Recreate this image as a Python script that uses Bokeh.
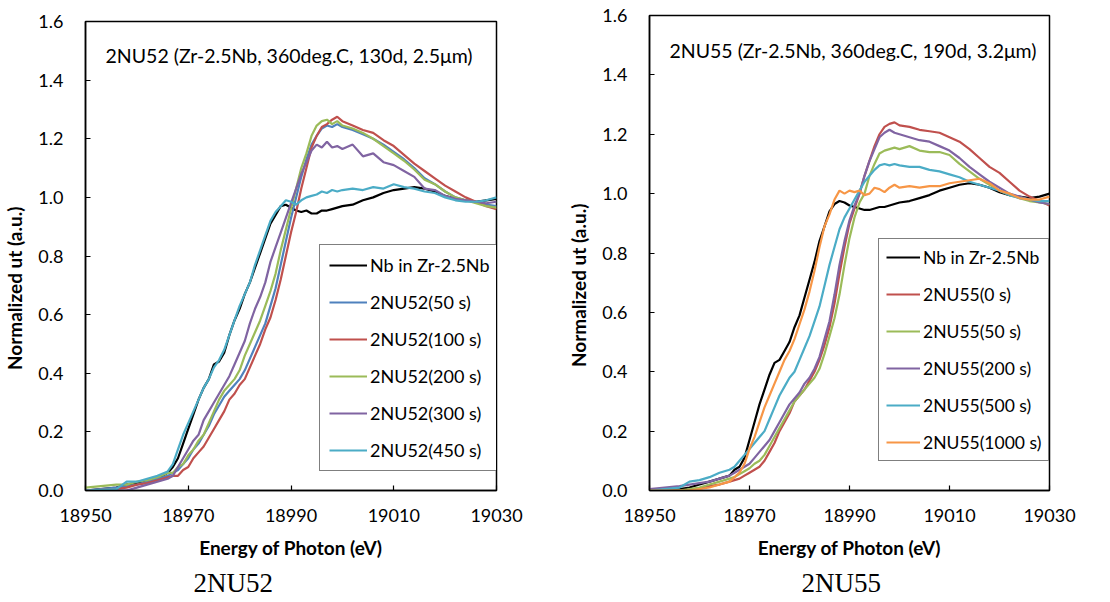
from bokeh.plotting import figure
from bokeh.layouts import row, column
from bokeh.models import Legend, LegendItem, Label, Title, FixedTicker, NumeralTickFormatter, Range1d
from bokeh.embed import file_html
from bokeh.resources import INLINE

# Photon energy grid (eV)
energy = ([18950, 18956, 18958, 18960, 18962, 18964, 18966]
          + list(range(18967, 19001)) + list(range(19002, 19031, 2)))

x_ticks = [18950, 18970, 18990, 19010, 19030]
y_ticks = [0.0, 0.2, 0.4, 0.6, 0.8, 1.0, 1.2, 1.4, 1.6]

# ---------------- 2NU52 ----------------
nb_ref_52 = [0.00, 0.01, 0.02, 0.025, 0.035, 0.04, 0.06,
             0.08, 0.11, 0.16, 0.21, 0.26, 0.31, 0.35, 0.38, 0.43, 0.44,
             0.47, 0.53, 0.58, 0.62, 0.67, 0.71, 0.76, 0.81, 0.86, 0.91,
             0.94, 0.97, 0.975, 0.965, 0.955, 0.95, 0.955, 0.945, 0.945, 0.955,
             0.955, 0.96, 0.965, 0.97,
             0.975, 0.99, 1.0, 1.015, 1.025, 1.03, 1.035, 1.03, 1.02, 1.005, 0.995, 0.99, 0.985, 0.99, 0.995]
s52_50 = [0.0, 0.01, 0.015, 0.02, 0.03, 0.04, 0.05,
          0.06, 0.07, 0.09, 0.11, 0.14, 0.16, 0.19, 0.22, 0.26, 0.29,
          0.32, 0.34, 0.36, 0.38, 0.41, 0.45, 0.49, 0.53, 0.57, 0.63,
          0.69, 0.77, 0.85, 0.93, 1.0, 1.07, 1.13, 1.18, 1.21, 1.235,
          1.245, 1.24, 1.25, 1.24,
          1.23, 1.215, 1.20, 1.18, 1.155, 1.13, 1.10, 1.065, 1.045, 1.02, 1.0, 0.99, 0.985, 0.975, 0.97]
s52_100 = [0.0, 0.005, 0.01, 0.02, 0.025, 0.035, 0.045,
           0.05, 0.05, 0.07, 0.08, 0.11, 0.13, 0.15, 0.18, 0.21, 0.24,
           0.27, 0.31, 0.33, 0.36, 0.38, 0.42, 0.46, 0.50, 0.55, 0.59,
           0.65, 0.72, 0.80, 0.88, 0.95, 1.03, 1.10, 1.17, 1.21, 1.24,
           1.25, 1.265, 1.275, 1.26,
           1.245, 1.23, 1.22, 1.195, 1.175, 1.145, 1.115, 1.09, 1.065, 1.04, 1.02, 1.0, 0.985, 0.97, 0.96]
s52_200 = [0.01, 0.02, 0.02, 0.03, 0.035, 0.045, 0.06,
           0.06, 0.08, 0.09, 0.12, 0.14, 0.17, 0.19, 0.23, 0.27, 0.31,
           0.34, 0.36, 0.38, 0.41, 0.46, 0.50, 0.54, 0.58, 0.63, 0.68,
           0.74, 0.82, 0.89, 0.96, 1.03, 1.10, 1.15, 1.21, 1.245, 1.26,
           1.265, 1.25, 1.26, 1.245,
           1.235, 1.22, 1.20, 1.175, 1.15, 1.125, 1.095, 1.06, 1.045, 1.02, 1.0, 0.99, 0.98, 0.97, 0.965]
s52_300 = [0.0, 0.0, 0.0, 0.01, 0.02, 0.03, 0.04,
           0.05, 0.08, 0.11, 0.14, 0.17, 0.19, 0.24, 0.27, 0.30, 0.33,
           0.36, 0.39, 0.43, 0.47, 0.51, 0.57, 0.62, 0.66, 0.71, 0.78,
           0.83, 0.88, 0.93, 0.98, 1.03, 1.08, 1.12, 1.16, 1.18, 1.17,
           1.19, 1.17, 1.175, 1.165,
           1.18, 1.14, 1.15, 1.12, 1.11, 1.09, 1.07, 1.03, 1.025, 1.005, 0.995, 0.99, 0.985, 0.98, 0.985]
s52_450 = [0.00, 0.005, 0.03, 0.03, 0.04, 0.05, 0.065,
           0.09, 0.14, 0.19, 0.23, 0.27, 0.31, 0.35, 0.38, 0.42, 0.445,
           0.48, 0.53, 0.58, 0.63, 0.67, 0.71, 0.77, 0.82, 0.87, 0.92,
           0.95, 0.97, 0.99, 0.985, 0.975, 0.99, 1.0, 1.005, 1.01, 1.02,
           1.015, 1.025, 1.02, 1.025,
           1.03, 1.025, 1.035, 1.03, 1.045, 1.035, 1.03, 1.02, 1.015, 1.0, 0.99, 0.985, 0.985, 0.99, 1.0]

labels_52 = ["Nb in Zr-2.5Nb", "2NU52(50 s)", "2NU52(100 s)", "2NU52(200 s)", "2NU52(300 s)", "2NU52(450 s)"]
series_52 = [nb_ref_52, s52_50, s52_100, s52_200, s52_300, s52_450]
colors_52 = ["#000000", "#4F81BD", "#C0504D", "#9BBB59", "#8064A2", "#4BACC6"]

# ---------------- 2NU55 ----------------
nb_ref_55 = [0.0, 0.005, 0.01, 0.02, 0.03, 0.04, 0.05,
             0.07, 0.08, 0.11, 0.17, 0.23, 0.29, 0.34, 0.39, 0.43, 0.44,
             0.47, 0.50, 0.55, 0.59, 0.65, 0.71, 0.77, 0.84, 0.89, 0.94,
             0.965, 0.975, 0.97, 0.96, 0.955, 0.95, 0.945, 0.945, 0.95, 0.955,
             0.955, 0.96, 0.965, 0.97,
             0.975, 0.985, 0.995, 1.01, 1.02, 1.03, 1.035, 1.03, 1.02, 1.005, 0.995, 0.99, 0.985, 0.99, 1.0]
s55_0 = [0.0, 0.0, 0.0, 0.005, 0.015, 0.02, 0.03,
         0.035, 0.04, 0.05, 0.06, 0.07, 0.08, 0.10, 0.13, 0.16, 0.20,
         0.23, 0.26, 0.30, 0.32, 0.34, 0.37, 0.40, 0.44, 0.49, 0.55,
         0.63, 0.73, 0.82, 0.90, 0.95, 1.0, 1.06, 1.11, 1.16, 1.2,
         1.225, 1.235, 1.24, 1.23,
         1.225, 1.215, 1.21, 1.205, 1.19, 1.175, 1.15, 1.12, 1.09, 1.07, 1.04, 1.01, 0.99, 0.975, 0.96]
s55_50 = [0.0, 0.0, 0.005, 0.01, 0.02, 0.03, 0.04,
          0.045, 0.055, 0.065, 0.075, 0.09, 0.10, 0.12, 0.15, 0.18, 0.21,
          0.24, 0.27, 0.30, 0.32, 0.34, 0.36, 0.38, 0.41, 0.46, 0.52,
          0.58, 0.66, 0.76, 0.85, 0.92, 0.97, 1.0, 1.06, 1.10, 1.135,
          1.145, 1.15, 1.155, 1.15,
          1.16, 1.145, 1.14, 1.14, 1.13, 1.10, 1.075, 1.05, 1.03, 1.01, 0.995, 0.985, 0.975, 0.97, 0.965]
s55_200 = [0.005, 0.015, 0.02, 0.025, 0.03, 0.04, 0.05,
           0.06, 0.07, 0.08, 0.09, 0.11, 0.13, 0.15, 0.17, 0.20, 0.23,
           0.26, 0.29, 0.31, 0.33, 0.36, 0.38, 0.41, 0.45, 0.51, 0.57,
           0.66, 0.76, 0.84, 0.91, 0.96, 1.0, 1.06, 1.11, 1.15, 1.19,
           1.205, 1.215, 1.205, 1.2,
           1.19, 1.18, 1.175, 1.16, 1.145, 1.12, 1.09, 1.065, 1.04, 1.02, 1.0, 0.99, 0.98, 0.97, 0.965]
s55_500 = [0.0, 0.01, 0.03, 0.035, 0.045, 0.06, 0.07,
           0.08, 0.10, 0.12, 0.14, 0.16, 0.18, 0.20, 0.24, 0.28, 0.32,
           0.35, 0.38, 0.40, 0.44, 0.48, 0.52, 0.57, 0.62, 0.69, 0.76,
           0.82, 0.88, 0.92, 0.95, 0.98, 1.01, 1.04, 1.06, 1.08, 1.095,
           1.1, 1.095, 1.1, 1.095,
           1.09, 1.09, 1.08, 1.075, 1.065, 1.055, 1.04, 1.03, 1.02, 1.01, 0.995, 0.985, 0.98, 0.975, 0.975]
s55_1000 = [0.0, 0.0, 0.0, 0.005, 0.01, 0.02, 0.03,
            0.045, 0.06, 0.09, 0.14, 0.18, 0.23, 0.28, 0.32, 0.36, 0.40,
            0.44, 0.47, 0.51, 0.56, 0.61, 0.67, 0.74, 0.82, 0.89, 0.93,
            0.98, 1.01, 1.0, 1.01, 1.005, 1.01, 0.995, 1.0, 1.02, 1.015,
            1.005, 1.02, 1.03, 1.02,
            1.025, 1.02, 1.025, 1.025, 1.035, 1.04, 1.045, 1.05, 1.035, 1.01, 1.0, 0.985, 0.98, 0.98, 0.99]

labels_55 = ["Nb in Zr-2.5Nb", "2NU55(0 s)", "2NU55(50 s)", "2NU55(200 s)", "2NU55(500 s)", "2NU55(1000 s)"]
series_55 = [nb_ref_55, s55_0, s55_50, s55_200, s55_500, s55_1000]
colors_55 = ["#000000", "#C0504D", "#9BBB59", "#8064A2", "#4BACC6", "#F79646"]

notes = ["2NU52 (Zr-2.5Nb, 360deg.C, 130d, 2.5\u03bcm)", "2NU55 (Zr-2.5Nb, 360deg.C, 190d, 3.2\u03bcm)"]
captions = ["2NU52", "2NU55"]

FONT = "Lato"
# trailing no-break spaces push the rotated label a little below the frame centre, as in the original
Y_LABEL = "Normalized ut (a.u.)" + "\u00a0" * 14


def make_panel(series, labels, colors, note, caption, borders, legend_cfg, note_pos, caption_offset):
    left, right, top, bottom = borders
    legend_loc, legend_font, legend_pad, glyph_w = legend_cfg
    p = figure(width=555, height=602, output_backend="svg", toolbar_location=None,
               title_location=None,
               x_range=Range1d(18950, 19030), y_range=Range1d(0, 1.6),
               min_border_left=left, min_border_right=right,
               min_border_top=top, min_border_bottom=bottom)
    p.xgrid.visible = False
    p.ygrid.visible = False
    p.outline_line_color = "black"
    p.outline_line_width = 1.5
    p.background_fill_color = "white"
    p.border_fill_color = "white"

    for ax in (p.xaxis[0], p.yaxis[0]):
        ax.major_tick_in = 5
        ax.major_tick_out = 0
        ax.minor_tick_in = 0
        ax.minor_tick_out = 0
        ax.axis_line_width = 1.5
        ax.axis_line_color = "black"
        ax.major_tick_line_color = "black"
        ax.major_tick_line_width = 1.2
        ax.major_label_text_font = FONT
        ax.major_label_text_font_size = "18px"
        ax.major_label_text_color = "black"
        ax.axis_label_text_font = FONT
        ax.axis_label_text_font_size = "19px"
        ax.axis_label_text_font_style = "bold"
        ax.axis_label_text_color = "black"

    p.xaxis.ticker = FixedTicker(ticks=x_ticks)
    p.xaxis.formatter = NumeralTickFormatter(format="0")
    p.xaxis.axis_label = "Energy of Photon (eV)"
    p.xaxis.major_label_standoff = 18
    p.xaxis.axis_label_standoff = 11

    p.yaxis.ticker = FixedTicker(ticks=y_ticks)
    p.yaxis.formatter = NumeralTickFormatter(format="0.0")
    p.yaxis.axis_label = Y_LABEL
    p.yaxis.major_label_standoff = 22
    p.yaxis.axis_label_standoff = 9

    items = []
    for ys, lab, col in zip(series, labels, colors):
        r = p.line(energy, ys, line_color=col, line_width=2.2)
        items.append(LegendItem(label=lab, renderers=[r]))

    legend = Legend(items=items, location=legend_loc)
    legend.border_line_color = "black"
    legend.border_line_width = 1.5
    legend.background_fill_color = "white"
    legend.background_fill_alpha = 1.0
    legend.padding = legend_pad
    legend.spacing = 15
    legend.margin = 0
    legend.glyph_width = glyph_w
    legend.glyph_height = 22
    legend.label_height = 22
    legend.label_standoff = 3
    legend.label_text_font = FONT
    legend.label_text_font_size = legend_font
    legend.label_text_color = "black"
    p.add_layout(legend)

    p.add_layout(Label(x=note_pos[0], y=note_pos[1], text=note, text_font=FONT,
                       text_font_size="19.5px", text_baseline="middle", text_color="black"))

    cap = Title(text=caption, align="left", offset=caption_offset, standoff=9,
                text_font="Liberation Serif", text_font_size="27px",
                text_font_style="normal", text_color="black", text_line_height=0.9)
    p.add_layout(cap, "below")
    return p


p1 = make_panel(series_52, labels_52, colors_52, notes[0], captions[0],
                (85, 59, 21, 111), ((234, 19), "18px", 9, 38), (18953.9, 1.485), 108)
p2 = make_panel(series_55, labels_55, colors_55, notes[1], captions[1],
                (94, 61, 15, 112), ((229, 29), "17.5px", 7, 34), (18954.0, 1.482), 152)

layout = row(column(p1), column(p2))
open("out.html", "w").write(file_html(layout, INLINE))
